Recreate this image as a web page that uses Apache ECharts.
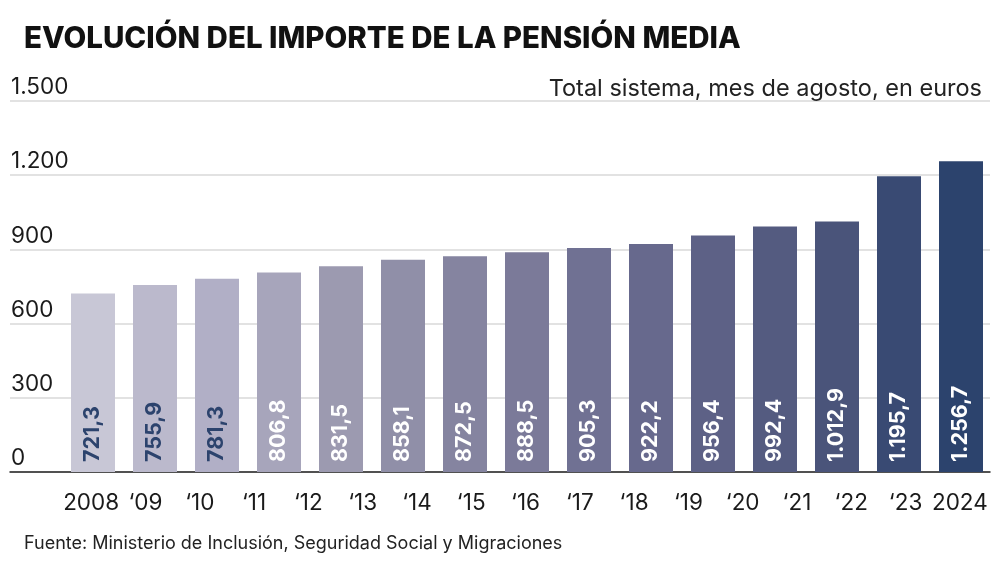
<!DOCTYPE html>
<html><head><meta charset="utf-8">
<script src="https://cdn.jsdelivr.net/npm/echarts@6/dist/echarts.min.js"></script>
<style>html,body{margin:0;padding:0;background:#fff}#c{width:1000px;height:567px}</style>
</head><body><div id="c"></div>
<script>
// Axis labels shown under the chart (17 labels, as in the original graphic)
const yearLabels = ['2008','‘09','‘10','‘11','‘12','‘13','‘14','‘15','‘16','‘17','‘18','‘19','‘20','‘21','‘22','‘23','2024'];
// Bar values (15 bars in the original graphic), euros
const pensionValues = [721.3, 755.9, 781.3, 806.8, 831.5, 858.1, 872.5, 888.5, 905.3, 922.2, 956.4, 992.4, 1012.9, 1195.7, 1256.7];
const yTicks = [0, 300, 600, 900, 1200, 1500];
const barColors = ['#c8c7d6','#bbb9cc','#b1afc6','#a7a5bb','#9c9ab0','#908fa8','#8584a0','#7b7a99','#707193','#67698d','#5d6186','#545b80','#4a547a','#394a73','#2c436d'];
const labelColors = ['#2c436d','#2c436d','#2c436d','#fff','#fff','#fff','#fff','#fff','#fff','#fff','#fff','#fff','#fff','#fff','#fff'];

const FONT = 'Inter, "Liberation Sans", sans-serif';
function fmtEs(v, dec) {
  const parts = v.toFixed(dec).split('.');
  parts[0] = parts[0].replace(/\B(?=(\d{3})+(?!\d))/g, '.');
  return parts.join(',');
}

const chart = echarts.init(document.getElementById('c'), null, {renderer: 'canvas'});
const TOP = 101, BOTTOM = 95;
chart.setOption({
  backgroundColor: '#fff',
  animation: false,
  textStyle: {fontFamily: FONT},
  title: [
    {text: 'EVOLUCIÓN DEL IMPORTE DE LA PENSIÓN MEDIA', left: 19, top: 19,
     textStyle: {fontFamily: FONT, fontSize: 29.5, fontWeight: 800, color: '#111'}},
    {text: 'Total sistema, mes de agosto, en euros', right: 13, top: 72,
     textStyle: {fontFamily: FONT, fontSize: 23.5, fontWeight: 'normal', color: '#222'}},
    {text: 'Fuente: Ministerio de Inclusión, Seguridad Social y Migraciones', left: 19, top: 530,
     textStyle: {fontFamily: FONT, fontSize: 18, fontWeight: 'normal', color: '#222'}}
  ],
  grid: [
    {left: 10, right: 10, top: TOP, bottom: BOTTOM},
    {left: 62, right: 8, top: TOP, bottom: BOTTOM},
    {left: 64, right: 13, top: TOP, bottom: BOTTOM}
  ],
  xAxis: [
    {gridIndex: 0, type: 'value', min: 0, max: 1,
     axisLine: {show: true, onZero: false, lineStyle: {color: '#222', width: 1.5}},
     axisTick: {show: false}, axisLabel: {show: false}, splitLine: {show: false}},
    {gridIndex: 1, type: 'category', data: pensionValues.map((v, i) => String(i)),
     axisLine: {show: false}, axisTick: {show: false}, axisLabel: {show: false}},
    {gridIndex: 2, type: 'category', data: yearLabels, position: 'bottom',
     axisLine: {show: false}, axisTick: {show: false},
     axisLabel: {interval: 0, fontFamily: FONT, fontSize: 22.5, color: '#1a1a1a', margin: 20}}
  ],
  yAxis: [
    {gridIndex: 0, type: 'value', min: yTicks[0], max: yTicks[yTicks.length - 1], interval: 300,
     axisLine: {show: false}, axisTick: {show: false},
     splitLine: {show: true, lineStyle: {color: '#d9d9d9', width: 1.5}},
     axisLabel: {inside: true, margin: 1, verticalAlign: 'bottom', padding: [0, 0, 2, 0],
       fontFamily: FONT, fontSize: 22.5, color: '#1a1a1a',
       formatter: v => fmtEs(v, 0)}},
    {gridIndex: 1, type: 'value', min: yTicks[0], max: yTicks[yTicks.length - 1], show: false},
    {gridIndex: 2, type: 'value', min: yTicks[0], max: yTicks[yTicks.length - 1], show: false}
  ],
  series: [{
    type: 'bar', xAxisIndex: 1, yAxisIndex: 1, barWidth: 44,
    data: pensionValues.map((v, i) => ({
      value: v,
      itemStyle: {color: barColors[i]},
      label: {color: labelColors[i]}
    })),
    label: {
      show: true, position: 'insideBottom', rotate: 90, align: 'left', verticalAlign: 'middle',
      distance: 10, fontFamily: FONT, fontSize: 21.5, fontWeight: 'bold',
      formatter: p => fmtEs(p.value, 1)
    }
  }]
});
</script>
</body></html>
